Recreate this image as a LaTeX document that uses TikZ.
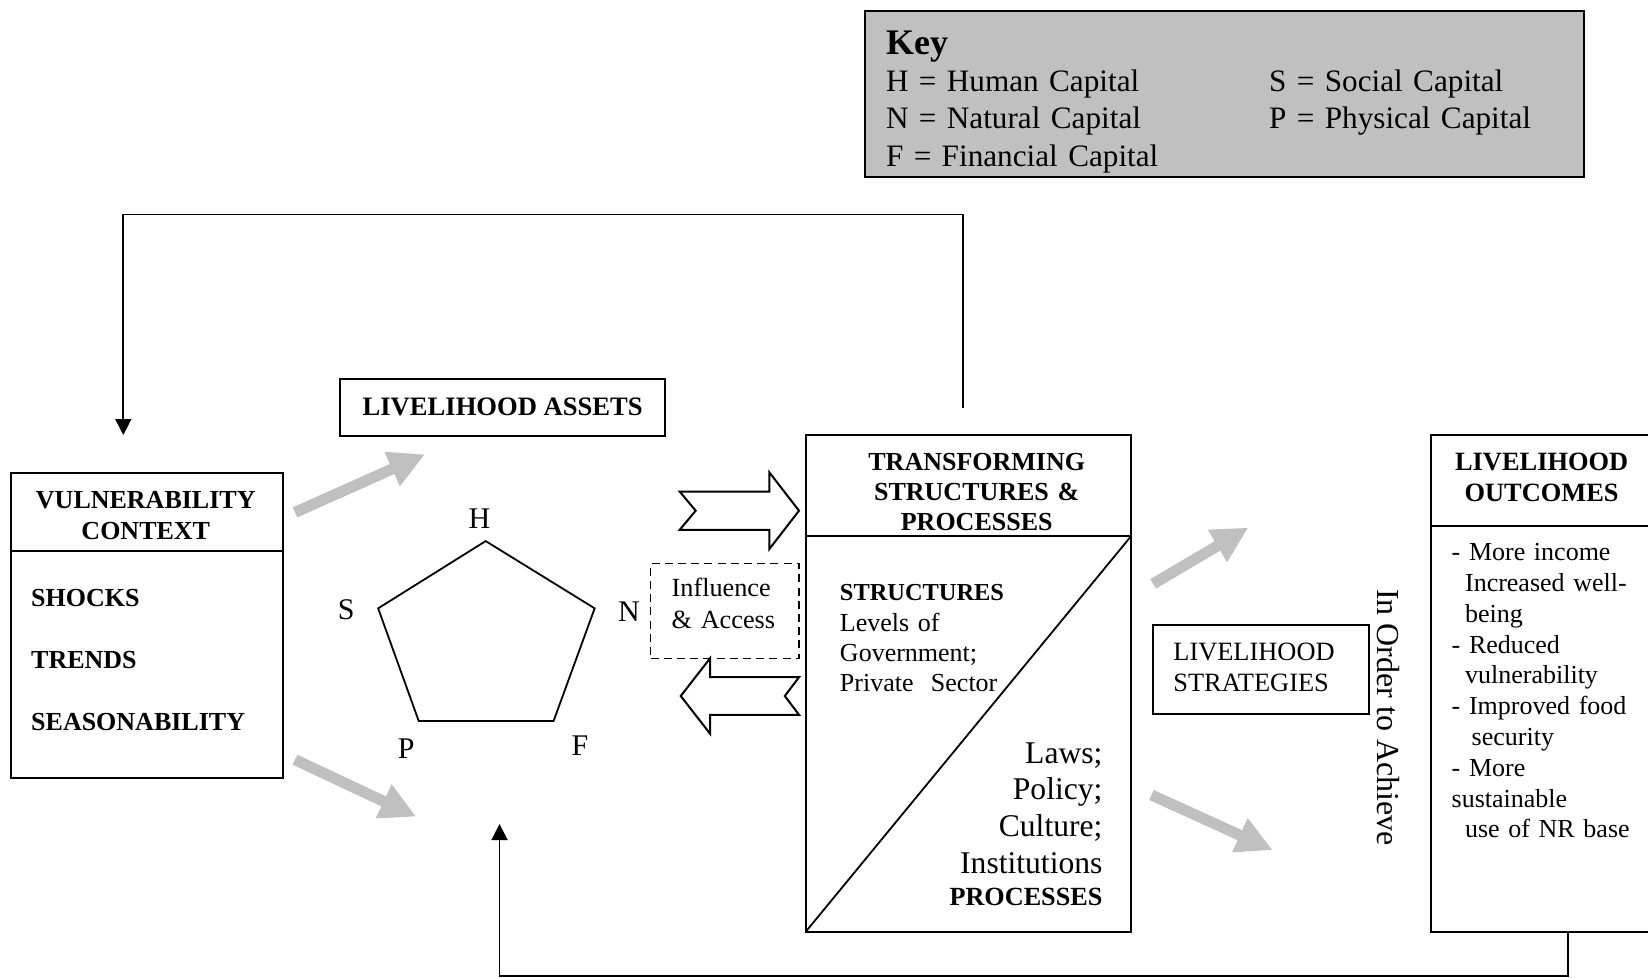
\documentclass[tikz,border=0pt]{standalone}
\usepackage{fontspec}
\setmainfont{Liberation Serif}
\usetikzlibrary{arrows.meta,fit}
\definecolor{keygray}{RGB}{192,192,192}
\definecolor{arrowgray}{RGB}{192,192,192}
\newcommand\setfs[2]{\fontsize{#1}{#2}\selectfont}
\begin{document}
\begin{tikzpicture}[x=0.5255pt,y=-0.5255pt,
  box/.style={draw, line width=1pt, inner sep=0pt, outer sep=0pt},
  txt/.style={inner sep=0pt, outer sep=0pt},
  grayarr/.style={draw=arrowgray, line width=5.5pt, -{Triangle[length=18pt,width=17.5pt]}},
  fb/.style={line width=0.85pt, -{Triangle[length=8pt,width=8pt]}},
  blockarr/.style={draw, fill=white, line width=1pt, line join=miter},
  lbl/.style={txt, font=\setfs{15}{17}}
]
\useasboundingbox (0,0) rectangle (1568,930);
\clip (0,0) rectangle (1568,930);

% ---------- Key ----------
\node[box, fill=keygray, fit={(823,10) (1507,168.7)}] (key) {};
\node[txt, anchor=base west, font=\setfs{18}{20}\bfseries] (keytitle) at (843,52.3) {Key};
\node[txt, anchor=base west, text width=200pt, align=left, font=\setfs{15.6}{18.65}] (keyleft) at (843,87.2)
  {H = Human Capital\\N = Natural Capital\\F = Financial Capital};
\node[txt, anchor=base west, text width=160pt, align=left, font=\setfs{15.6}{18.65}] (keyright) at (1207.5,87.2)
  {S = Social Capital\\P = Physical Capital};

% ---------- Vulnerability context ----------
\node[box, fit={(10.2,450.4) (268.9,740.6)}] (vuln) {};
\draw[line width=1pt] (10.2,524) -- (268.9,524);
\node[txt, anchor=base, text width=130pt, align=center, font=\setfs{13}{15.8}\bfseries] (vtitle) at (138.7,483.7)
  {VULNERABILITY\\CONTEXT};
\node[txt, anchor=base west, text width=125pt, align=left, font=\setfs{13}{30.85}\bfseries] (vitems) at (29.7,577.2)
  {SHOCKS\\TRENDS\\SEASONABILITY};

% ---------- Livelihood assets ----------
\node[box, fit={(323.7,360.6) (632.9,414.8)}] (assets) {};
\node[txt, anchor=base, font=\setfs{13.3}{15}\bfseries] (assetstxt) at (478.3,394.9) {LIVELIHOOD ASSETS};

% ---------- Pentagon ----------
\coordinate (pH) at (462.1,514.8);
\coordinate (pN) at (565.8,578.8);
\coordinate (pF) at (526.7,686);
\coordinate (pP) at (398.4,686);
\coordinate (pS) at (359.8,578.8);
\draw[line width=0.9pt, line join=miter] (pH) -- (pN) -- (pF) -- (pP) -- (pS) -- cycle;
\node[lbl, anchor=base] (lH) at (456.2,502.7) {H};
\node[lbl, anchor=base] (lS) at (329.3,589.3) {S};
\node[lbl, anchor=base] (lN) at (598.3,591.5) {N};
\node[lbl, anchor=base] (lP) at (386.5,721.5) {P};
\node[lbl, anchor=base] (lF) at (551.8,718.4) {F};

% ---------- Influence & Access ----------
\node[box, dashed, line width=0.8pt, dash pattern=on 4pt off 2.6pt, fit={(619,536.2) (760.3,626.4)}] (infl) {};
\node[txt, anchor=base west, text width=70pt, align=left, font=\setfs{13.1}{15.8}] (infltxt) at (639.1,567.7)
  {Influence\\\& Access};

% ---------- Block arrows ----------
\draw[blockarr] (646.7,467.7) -- (732,467.7) -- (732,449.4) -- (760.2,485.9) -- (732,522.4)
  -- (732,504.1) -- (646.7,504.1) -- (661.9,485.9) -- cycle;
\draw[blockarr] (647.7,662.2) -- (675.7,626.2) -- (675.7,644.2) -- (760.3,644.2) -- (746.7,662.2)
  -- (760.3,680.2) -- (675.7,680.2) -- (675.7,698.2) -- cycle;

% ---------- Transforming structures ----------
\node[box, fit={(766.6,413.9) (1076.5,886.5)}] (trans) {};
\draw[line width=1pt] (766.6,509.7) -- (1076.5,509.7);
\draw[line width=0.9pt] (trans.south west) -- (1076.5,509.7);
\node[txt, anchor=base, text width=160pt, align=center, font=\setfs{13}{15.1}\bfseries] (transtitle) at (929.3,447.2)
  {TRANSFORMING\\STRUCTURES \&\\PROCESSES};
\node[txt, anchor=base west, text width=110pt, align=left, font=\setfs{13}{15.1}] (structs) at (799.2,571.8)
  {{\fontsize{12.2}{15.1}\selectfont\bfseries STRUCTURES}\\Levels of\\Government;\\Private\ \ Sector};
\node[txt, anchor=base east, text width=110pt, align=right, font=\setfs{15.8}{18.3}] (procs) at (1048.9,726.3)
  {Laws;\\Policy;\\Culture;\\Institutions\\[-2.1pt]{\fontsize{13.1}{15}\selectfont\bfseries PROCESSES}};

% ---------- Livelihood strategies ----------
\node[box, fit={(1096.8,595) (1302.9,679)}] (strat) {};
\node[txt, anchor=base west, text width=100pt, align=left, font=\setfs{13.2}{15.1}] (strattxt) at (1116.4,628.8)
  {LIVELIHOOD\\STRATEGIES};

\node[txt, rotate=-90, font=\setfs{16}{18}] (order) at (1321.3,682.6) {In Order to Achieve};

% ---------- Livelihood outcomes ----------
\node[box, fit={(1361.6,413.9) (1585,887)}] (outc) {};
\draw[line width=1pt] (1361.6,500.5) -- (1585,500.5);
\node[txt, anchor=base, text width=110pt, align=center, font=\setfs{13.2}{15.5}\bfseries] (outctitle) at (1466.8,447.2)
  {LIVELIHOOD\\OUTCOMES};
\node[txt, anchor=base west, text width=110pt, align=left, font=\setfs{13}{15.4}] (outclist) at (1381.2,533.4)
  {- More income\\
   \hspace*{6.7pt}Increased well-\\
   \hspace*{6.7pt}being\\
   - Reduced\\
   \hspace*{6.7pt}vulnerability\\
   - Improved food\\
   \hspace*{10pt}security\\
   - More\\
   sustainable\\
   \hspace*{6.7pt}use of NR base};

% ---------- Gray arrows ----------
\coordinate (g1a) at (280.7,487.5);  \coordinate (g1b) at (404.4,432.3);
\coordinate (g2a) at (280.7,722.8);  \coordinate (g2b) at (396,777);
\coordinate (g3a) at (1097.2,555.5); \coordinate (g3b) at (1187.8,502);
\coordinate (g4a) at (1095.6,756.4); \coordinate (g4b) at (1210.9,808.8);
\draw[grayarr] (g1a) -- (g1b);
\draw[grayarr] (g2a) -- (g2b);
\draw[grayarr] (g3a) -- (g3b);
\draw[grayarr] (g4a) -- (g4b);

% ---------- Feedback loops ----------
\coordinate (fbTop) at (916.3,387.9);
\coordinate (fbTopTip) at (117.3,413.9);
\draw[fb] (fbTop) |- (117.3,204) -- (fbTopTip);
\coordinate (fbBot) at (1492,887);
\coordinate (fbBotTip) at (475.3,784);
\draw[fb] (fbBot) -- (1492,928.6) -| (fbBotTip);
\end{tikzpicture}
\end{document}
